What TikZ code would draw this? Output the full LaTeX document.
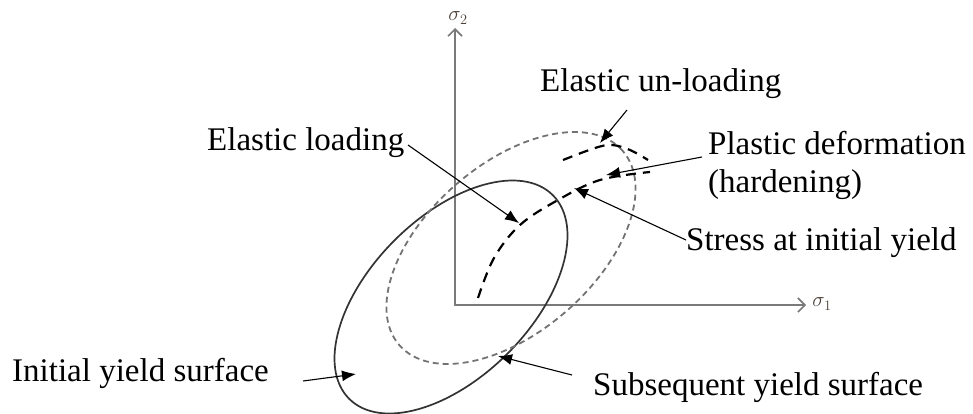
\documentclass[tikz,border=0pt]{standalone}
\usepackage{fontspec}
\setmainfont{Liberation Serif}
\usetikzlibrary{arrows.meta}
\definecolor{axisgray}{HTML}{7A7A7A}
\definecolor{siglabel}{HTML}{4A4038}
\begin{document}
\begin{tikzpicture}[x=1pt,y=-1pt,
  lbl/.style={font=\fontsize{33}{38}\selectfont, inner sep=0pt, anchor=base west},
  siglbl/.style={font=\fontsize{20}{22}\selectfont, text=siglabel, inner sep=0pt},
  axis/.style={draw=axisgray, line width=2.4pt, -{Straight Barb[length=7pt,width=14pt,line width=1.6pt]}},
  yieldsolid/.style={draw=black!80, line width=1.7pt},
  yielddash/.style={draw=black!55, line width=1.8pt, dash pattern=on 6pt off 4pt},
  loadpath/.style={draw=black, line width=2.2pt, dash pattern=on 10pt off 7pt},
  pointer/.style={draw=black, line width=1.1pt, -{Latex[length=14pt,width=11pt]}}
]
\useasboundingbox (0,0) rectangle (973,414);

% axes
\coordinate (O) at (455,305);
\coordinate (ytop) at (455,28);
\coordinate (xend) at (806,305);
\draw[axis] (O) -- (ytop);
\draw[axis] ([xshift=-1.2pt]O) -- (xend);
\node[siglbl] (s2) at (458,18) {$\sigma_2$};
\node[siglbl] (s1) at (822,304) {$\sigma_1$};

% yield surfaces
\draw[yieldsolid, rotate around={45:(451,297)}] (451,297) ellipse [x radius=144pt, y radius=80pt];
\draw[yielddash, rotate around={41:(511,248)}] (511,248) ellipse [x radius=148pt, y radius=84pt];

% loading paths
\draw[loadpath] plot[smooth, tension=0.6] coordinates {(478,298) (494,258) (520,225) (558,200) (600,180) (650,172)};
\draw[loadpath] plot[smooth, tension=0.6] coordinates {(563,160) (595,148) (612,145) (630,150) (648,160)};

% labels
\node[lbl] (elload) at (207,150) {Elastic loading};
\node[lbl] (elunload) at (540,92) {Elastic un-loading};
\node[lbl] (plastic) at (708,155) {Plastic deformation};
\node[lbl] (harden) at (708,192) {(hardening)};
\node[lbl] (stress) at (686,250) {Stress at initial yield};
\node[lbl] (initial) at (12,381) {Initial yield surface};
\node[lbl] (subseq) at (593,395) {Subsequent yield surface};

% pointer ends
\coordinate (p1s) at (408,145); \coordinate (p1e) at (519,223);
\coordinate (p2s) at (627,110); \coordinate (p2e) at (600,143);
\coordinate (p3s) at (702,157); \coordinate (p3e) at (606,175);
\coordinate (p4s) at (686,240); \coordinate (p4e) at (574,188);
\coordinate (p5s) at (303,381); \coordinate (p5e) at (356,374);
\coordinate (p6s) at (572,375); \coordinate (p6e) at (498,356);
\draw[pointer] (p1s) -- (p1e);
\draw[pointer] (p2s) -- (p2e);
\draw[pointer] (p3s) -- (p3e);
\draw[pointer] (p4s) -- (p4e);
\draw[pointer] (p5s) -- (p5e);
\draw[pointer] (p6s) -- (p6e);
\end{tikzpicture}
\end{document}
